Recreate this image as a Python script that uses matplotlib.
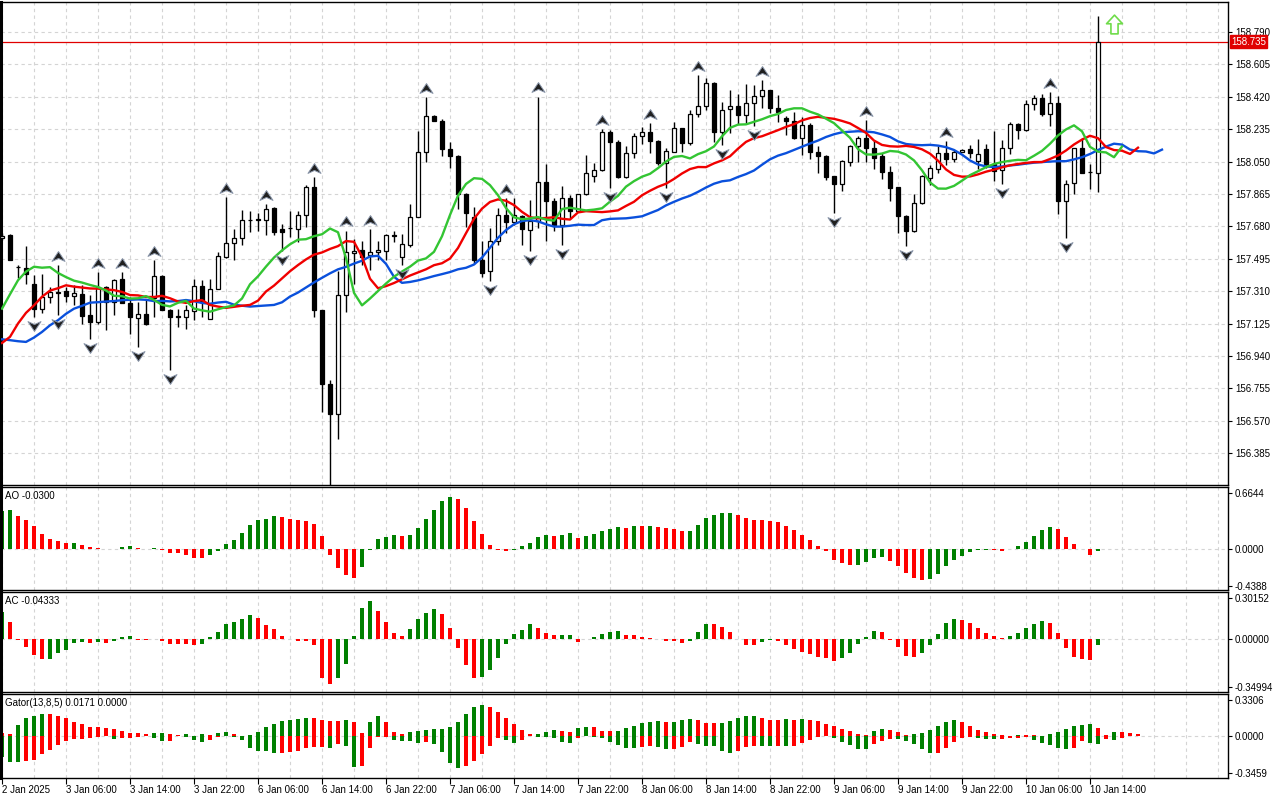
import matplotlib
matplotlib.use('Agg')
import matplotlib.pyplot as plt
import numpy as np
from matplotlib.path import Path

plt.rcParams['font.family'] = ['Liberation Sans', 'DejaVu Sans']

# hourly candles, 2 Jan 2025 .. 10 Jan 14:00
opens = [157.615, 157.628, 157.45, 157.444, 157.353, 157.21, 157.277, 157.305, 157.309, 157.282,
         157.296, 157.172, 157.134, 157.334, 157.248, 157.377, 157.244, 157.159, 157.182, 157.269,
         157.394, 157.204, 157.166, 157.163, 157.197, 157.338, 157.153, 157.324, 157.503, 157.584,
         157.615, 157.717, 157.72, 157.717, 157.784, 157.666, 157.67, 157.666, 157.742, 157.907,
         157.20, 156.778, 156.611, 157.286, 157.527, 157.546, 157.514, 157.533, 157.542, 157.628,
         157.504, 157.576, 157.736, 158.107, 158.312, 158.283, 158.122, 158.084, 157.865, 157.732,
         157.489, 157.427, 157.594, 157.742, 157.704, 157.737, 157.661, 157.708, 157.936, 157.826,
         157.689, 157.841, 157.765, 157.864, 157.97, 158.0, 158.221, 158.164, 157.959, 158.098,
         158.193, 158.221, 158.168, 158.041, 158.107, 158.24, 158.155, 158.32, 158.369, 158.497,
         158.217, 158.35, 158.369, 158.316, 158.383, 158.424, 158.459, 158.354, 158.297, 158.282,
         158.187, 158.259, 158.103, 158.084, 157.97, 157.921, 158.05, 158.136, 158.187, 158.13,
         158.079, 157.989, 157.902, 157.74, 157.651, 157.813, 157.955, 158.008, 158.101, 158.065,
         158.107, 158.119, 158.053, 158.119, 158.034, 157.999, 158.125, 158.262, 158.228, 158.38,
         158.41, 158.323, 158.385, 157.825, 157.93, 158.125, 157.992, 157.986]
highs = [157.64, 157.635, 157.457, 157.566, 157.40, 157.406, 157.334, 157.457, 157.334, 157.343,
         157.343, 157.286, 157.419, 157.34, 157.381, 157.42, 157.277, 157.248, 157.258, 157.49,
         157.40, 157.21, 157.21, 157.229, 157.38, 157.375, 157.381, 157.533, 157.847, 157.666,
         157.774, 157.77, 157.755, 157.808, 157.789, 157.694, 157.765, 157.77, 157.918, 157.96,
         157.20, 156.805, 157.424, 157.656, 157.609, 157.595, 157.666, 157.595, 157.637, 157.656,
         157.637, 157.808, 158.226, 158.416, 158.315, 158.293, 158.16, 158.09, 157.87, 157.789,
         157.594, 157.67, 157.784, 157.841, 157.841, 157.746, 157.832, 158.421, 158.035, 157.841,
         157.908, 157.86, 157.866, 158.088, 158.04, 158.236, 158.23, 158.174, 158.136, 158.212,
         158.25, 158.269, 158.174, 158.126, 158.278, 158.244, 158.345, 158.545, 158.525, 158.506,
         158.392, 158.459, 158.434, 158.491, 158.487, 158.516, 158.46, 158.43, 158.312, 158.335,
         158.307, 158.27, 158.136, 158.09, 157.97, 158.06, 158.145, 158.193, 158.288, 158.174,
         158.098, 158.022, 157.905, 157.742, 157.864, 157.975, 158.031, 158.136, 158.168, 158.117,
         158.12, 158.144, 158.176, 158.152, 158.224, 158.171, 158.277, 158.271, 158.404, 158.429,
         158.433, 158.448, 158.423, 157.943, 158.129, 158.186, 158.038, 158.879]
lows = [157.60, 157.485, 157.387, 157.353, 157.163, 157.185, 157.242, 157.175, 157.248, 157.229,
        157.125, 157.039, 157.125, 157.087, 157.172, 157.24, 157.068, 156.992, 157.115, 157.163,
        157.20, 156.859, 157.106, 157.096, 157.144, 157.163, 157.15, 157.32, 157.501, 157.486,
        157.571, 157.647, 157.656, 157.628, 157.628, 157.542, 157.618, 157.59, 157.679, 157.162,
        156.621, 156.203, 156.463, 157.191, 157.352, 157.457, 157.432, 157.485, 157.485, 157.59,
        157.457, 157.561, 157.732, 158.046, 158.28, 158.084, 158.013, 157.78, 157.675, 157.466,
        157.39, 157.366, 157.575, 157.642, 157.689, 157.575, 157.541, 157.67, 157.598, 157.651,
        157.575, 157.727, 157.76, 157.86, 157.932, 157.998, 157.898, 157.955, 157.955, 158.073,
        158.149, 158.098, 158.03, 157.898, 158.103, 158.107, 158.145, 158.307, 158.345, 158.164,
        158.145, 158.212, 158.263, 158.27, 158.255, 158.354, 158.326, 158.278, 158.202, 158.179,
        158.088, 158.065, 157.984, 157.946, 157.756, 157.879, 158.022, 158.05, 158.05, 158.008,
        157.951, 157.822, 157.642, 157.566, 157.648, 157.81, 157.917, 157.984, 158.031, 158.05,
        158.103, 158.072, 158.005, 158.015, 157.939, 157.924, 158.095, 158.176, 158.224, 158.347,
        158.309, 158.252, 157.749, 157.616, 157.863, 157.984, 157.891, 157.878]
closes = [157.625, 157.49, 157.445, 157.406, 157.21, 157.277, 157.305, 157.30, 157.282, 157.30,
          157.168, 157.134, 157.334, 157.248, 157.372, 157.244, 157.163, 157.182, 157.125, 157.394,
          157.204, 157.163, 157.165, 157.204, 157.338, 157.248, 157.324, 157.508, 157.584, 157.615,
          157.717, 157.715, 157.718, 157.78, 157.647, 157.647, 157.668, 157.742, 157.907, 157.20,
          156.778, 156.611, 157.286, 157.533, 157.542, 157.504, 157.533, 157.546, 157.628, 157.626,
          157.58, 157.736, 158.107, 158.312, 158.283, 158.122, 158.084, 157.865, 157.755, 157.485,
          157.414, 157.594, 157.742, 157.704, 157.746, 157.666, 157.708, 157.936, 157.826, 157.689,
          157.841, 157.765, 157.864, 157.984, 158.0, 158.221, 158.16, 157.959, 158.098, 158.193,
          158.221, 158.168, 158.041, 158.111, 158.24, 158.155, 158.32, 158.369, 158.497, 158.217,
          158.345, 158.369, 158.316, 158.383, 158.424, 158.459, 158.354, 158.331, 158.282, 158.187,
          158.259, 158.107, 158.084, 157.959, 157.921, 158.054, 158.14, 158.187, 158.126, 158.073,
          157.989, 157.898, 157.74, 157.651, 157.813, 157.97, 158.012, 158.101, 158.065, 158.107,
          158.117, 158.10, 158.091, 158.034, 157.996, 158.125, 158.262, 158.228, 158.38, 158.41,
          158.323, 158.385, 157.825, 157.924, 158.125, 157.986, 157.99, 158.735]

# alligator values already on screen before the first candle feeds it
jaw_head = [157.035, 157.03, 157.024, 157.02, 157.045, 157.077, 157.115, 157.144]
teeth_head = [157.014, 157.049, 157.125, 157.186, 157.229]
lips_head = [157.21, 157.292, 157.372]

fractal_up = [7, 12, 15, 19, 28, 33, 39, 43, 46, 53, 63, 67, 75, 81, 87, 95, 108, 118, 131]
fractal_down = [4, 7, 11, 17, 21, 35, 41, 50, 61, 66, 70, 76, 83, 90, 94, 104, 113, 125, 133]

ao = [0.450, 0.455, 0.384, 0.336, 0.265, 0.178, 0.111, 0.087, 0.063, 0.065,
      0.040, 0.016, 0.004, -0.008, -0.004, 0.016, 0.028, 0.008, -0.004, 0.008,
      -0.012, -0.050, -0.052, -0.079, -0.110, -0.111, -0.079, -0.024, 0.051, 0.099,
      0.186, 0.285, 0.340, 0.348, 0.384, 0.372, 0.348, 0.336, 0.335, 0.289,
      0.146, -0.071, -0.229, -0.312, -0.348, -0.218, -0.012, 0.111, 0.134, 0.158,
      0.146, 0.160, 0.241, 0.348, 0.455, 0.562, 0.621, 0.597, 0.479, 0.324,
      0.170, 0.040, -0.020, -0.032, -0.012, 0.028, 0.063, 0.134, 0.158, 0.146,
      0.158, 0.182, 0.123, 0.146, 0.170, 0.206, 0.229, 0.253, 0.251, 0.269,
      0.266, 0.270, 0.257, 0.246, 0.234, 0.211, 0.212, 0.281, 0.363, 0.398,
      0.421, 0.422, 0.398, 0.363, 0.339, 0.338, 0.328, 0.316, 0.269, 0.226,
      0.164, 0.105, 0.035, -0.031, -0.129, -0.172, -0.195, -0.193, -0.160, -0.113,
      -0.101, -0.144, -0.207, -0.293, -0.347, -0.374, -0.359, -0.300, -0.207, -0.137,
      -0.090, -0.043, -0.020, -0.017, -0.020, -0.023, -0.008, 0.031, 0.078, 0.152,
      0.222, 0.257, 0.238, 0.140, 0.059, -0.004, -0.078, -0.030]
ac = [0.201, 0.127, -0.006, -0.056, -0.118, -0.145, -0.144, -0.105, -0.081, -0.032,
      -0.020, -0.032, -0.025, -0.027, -0.012, 0.017, 0.022, -0.005, -0.006, -0.002,
      -0.012, -0.037, -0.038, -0.039, -0.042, -0.037, 0.015, 0.051, 0.110, 0.125,
      0.147, 0.176, 0.154, 0.103, 0.074, 0.022, -0.002, -0.015, -0.018, -0.044,
      -0.289, -0.331, -0.287, -0.184, 0.022, 0.228, 0.279, 0.206, 0.125, 0.044,
      0.022, 0.074, 0.147, 0.191, 0.220, 0.184, 0.081, -0.066, -0.191, -0.287,
      -0.277, -0.228, -0.140, -0.037, 0.037, 0.066, 0.110, 0.081, 0.044, 0.029,
      0.030, 0.032, -0.020, -0.003, 0.017, 0.037, 0.051, 0.059, 0.029, 0.027,
      0.015, 0.005, -0.001, -0.012, -0.013, -0.032, -0.012, 0.051, 0.110, 0.109,
      0.088, 0.051, -0.002, -0.044, -0.047, -0.025, -0.006, -0.015, -0.044, -0.074,
      -0.098, -0.108, -0.130, -0.137, -0.159, -0.137, -0.100, -0.039, 0.015, 0.059,
      0.051, -0.005, -0.056, -0.123, -0.130, -0.100, -0.042, 0.037, 0.118, 0.147,
      0.140, 0.118, 0.081, 0.044, 0.022, 0.007, 0.022, 0.044, 0.081, 0.110,
      0.132, 0.118, 0.044, -0.066, -0.130, -0.145, -0.152, -0.043]

price_ticks = [158.790, 158.605, 158.420, 158.235, 158.050, 157.865, 157.680,
               157.495, 157.310, 157.125, 156.940, 156.755, 156.570, 156.385]
time_labels = ['2 Jan 2025', '3 Jan 06:00', '3 Jan 14:00', '3 Jan 22:00', '6 Jan 06:00',
               '6 Jan 14:00', '6 Jan 22:00', '7 Jan 06:00', '7 Jan 14:00', '7 Jan 22:00',
               '8 Jan 06:00', '8 Jan 14:00', '8 Jan 22:00', '9 Jan 06:00', '9 Jan 14:00',
               '9 Jan 22:00', '10 Jan 06:00', '10 Jan 14:00']

GREEN = '#008000'
RED = '#ff0000'
GRID = '#d4d4d4'
FS = 7


def smma(values, period, seed):
    out = []
    prev = seed
    for v in values:
        prev = (prev * (period - 1) + v) / period
        out.append(prev)
    return out


def rising_colors(vals, first=GREEN):
    cols = [first]
    for k in range(1, len(vals)):
        cols.append(GREEN if vals[k] > vals[k - 1] else RED)
    return cols


n = len(closes)
idx = np.arange(n)
median = [(h + l) / 2 for h, l in zip(highs, lows)]
jaw = jaw_head + smma(median, 13, jaw_head[-1])
teeth = teeth_head + smma(median, 8, teeth_head[-1])
lips = lips_head + smma(median, 5, lips_head[-1])

gator_up = [abs(jaw[k] - teeth[k]) for k in range(len(teeth))]
gator_dn = [abs(teeth[k] - lips[k]) for k in range(len(lips))]

W, H = 1280, 800


def box(x0, y0, x1, y1):
    return [x0 / W, 1 - y1 / H, (x1 - x0) / W, (y1 - y0) / H]


fig = plt.figure(figsize=(12.8, 8), dpi=100, facecolor='white')
ax = fig.add_axes(box(1, 2, 1228, 485))
ax_ao = fig.add_axes(box(1, 487, 1228, 590))
ax_ac = fig.add_axes(box(1, 592, 1228, 692))
ax_gt = fig.add_axes(box(1, 694, 1228, 778))
xmin = -0.125
xmax = xmin + 1227 / 8

for a in (ax, ax_ao, ax_ac, ax_gt):
    a.set_xlim(xmin, xmax)
    for k in range(0, 160, 4):
        a.axvline(k, color=GRID, lw=0.8, ls=(0, (3, 3)), zorder=0)
    for s in a.spines.values():
        s.set_color('black')
        s.set_linewidth(1)
    a.spines['left'].set_linewidth(2.2)
    a.yaxis.tick_right()
    a.tick_params(axis='y', length=3, width=0.8, pad=2, labelsize=FS, colors='black')
    a.tick_params(axis='x', bottom=False, labelbottom=False)

# ---- price panel
ax.set_ylim(156.203, 158.961)
for p in price_ticks:
    ax.axhline(p, color=GRID, lw=0.8, ls=(0, (3, 3)), zorder=0)
ax.set_yticks(price_ticks)
ax.set_yticklabels(['%.3f' % p for p in price_ticks])

ax.vlines(idx, lows, highs, colors='black', linewidth=1, zorder=2)
body_lo = [min(o, c) for o, c in zip(opens, closes)]
body_h = [abs(c - o) for o, c in zip(opens, closes)]
face = ['white' if c >= o else 'black' for o, c in zip(opens, closes)]
ax.bar(idx, body_h, bottom=body_lo, width=0.62, color=face, edgecolor='black',
       linewidth=0.9, zorder=3)

ax.plot(np.arange(len(jaw)), jaw, color='#0a50dc', lw=1.7, zorder=4)
ax.plot(np.arange(len(teeth)), teeth, color='#f00000', lw=1.7, zorder=4)
ax.plot(np.arange(len(lips)), lips, color='#33c533', lw=1.7, zorder=4)

arrow_up = Path([(0, 0.75), (1, -0.75), (0, -0.3), (-1, -0.75), (0, 0.75)],
                [Path.MOVETO, Path.LINETO, Path.LINETO, Path.LINETO, Path.CLOSEPOLY])
arrow_dn = Path([(0, -0.75), (1, 0.75), (0, 0.3), (-1, 0.75), (0, -0.75)],
                [Path.MOVETO, Path.LINETO, Path.LINETO, Path.LINETO, Path.CLOSEPOLY])
ax.plot(fractal_up, [highs[k] + 0.052 for k in fractal_up], ls='none', marker=arrow_up,
        ms=9.4, mfc='#202020', mec='#8a96aa', mew=0.7, zorder=5)
ax.plot(fractal_down, [lows[k] - 0.052 for k in fractal_down], ls='none', marker=arrow_dn,
        ms=9.4, mfc='#202020', mec='#8a96aa', mew=0.7, zorder=5)

# last price line and label
ax.axhline(closes[-1], color='#e00000', lw=0.9, zorder=1)
ax.annotate('%.3f' % closes[-1], xy=(1, closes[-1]), xycoords=('axes fraction', 'data'),
            xytext=(3, 0), textcoords='offset pixels', ha='left', va='center',
            fontsize=FS, color='white', annotation_clip=False,
            bbox=dict(boxstyle='square,pad=0.15', fc='#e00000', ec='#e00000'))

# buy signal arrow next to the last candle
sig = Path([(0, 1), (0.85, 0.08), (0.38, 0.08), (0.38, -1), (-0.38, -1), (-0.38, 0.08),
            (-0.85, 0.08), (0, 1)],
           [Path.MOVETO] + [Path.LINETO] * 6 + [Path.CLOSEPOLY])
ax.plot([n + 1], [highs[-1] - 0.045], ls='none', marker=sig, ms=13.5, mfc='white',
        mec='#6fdc4a', mew=1.2, zorder=6)

# ---- AO
ax_ao.set_ylim(-0.4917, 0.7345)
ax_ao.axhline(0, color=GRID, lw=0.8, ls=(0, (3, 3)), zorder=0)
ax_ao.bar(idx, ao, width=0.5, color=rising_colors(ao), zorder=2)
ax_ao.set_yticks([0.6644, 0.0, -0.4388])
ax_ao.set_yticklabels(['0.6644', '0.0000', '-0.4388'])
ax_ao.annotate('AO %.4f' % ao[-1], xy=(0, 1), xycoords='axes fraction', xytext=(4, -4),
               textcoords='offset pixels', ha='left', va='top', fontsize=FS)

# ---- AC
ax_ac.set_ylim(-0.3897, 0.3456)
ax_ac.axhline(0, color=GRID, lw=0.8, ls=(0, (3, 3)), zorder=0)
ax_ac.bar(idx, ac, width=0.5, color=rising_colors(ac), zorder=2)
ax_ac.set_yticks([0.30152, 0.0, -0.34994])
ax_ac.set_yticklabels(['0.30152', '0.00000', '-0.34994'])
ax_ac.annotate('AC -0.04333', xy=(0, 1), xycoords='axes fraction', xytext=(4, -4),
               textcoords='offset pixels', ha='left', va='top', fontsize=FS)

# ---- Gator
ax_gt.set_ylim(-0.3906, 0.385)
ax_gt.axhline(0, color=GRID, lw=0.8, ls=(0, (3, 3)), zorder=0)
ax_gt.bar(np.arange(len(gator_up)), gator_up, width=0.5,
          color=rising_colors(gator_up, RED), zorder=2)
ax_gt.bar(np.arange(len(gator_dn)), [-g for g in gator_dn], width=0.5,
          color=rising_colors(gator_dn, GREEN), zorder=2)
ax_gt.set_yticks([0.3306, 0.0, -0.3459])
ax_gt.set_yticklabels(['0.3306', '0.0000', '-0.3459'])
ax_gt.annotate('Gator(13,8,5) 0.0171 0.0000', xy=(0, 1), xycoords='axes fraction',
               xytext=(4, -4), textcoords='offset pixels', ha='left', va='top', fontsize=FS)

tick_idx = list(range(0, 8 * len(time_labels), 8))
ax_gt.set_xticks(tick_idx)
ax_gt.set_xticklabels(time_labels, ha='left')
ax_gt.tick_params(axis='x', bottom=True, labelbottom=True, length=4, width=0.8,
                  pad=1, labelsize=FS)

fig.savefig('out.png', dpi=100, facecolor='white')
